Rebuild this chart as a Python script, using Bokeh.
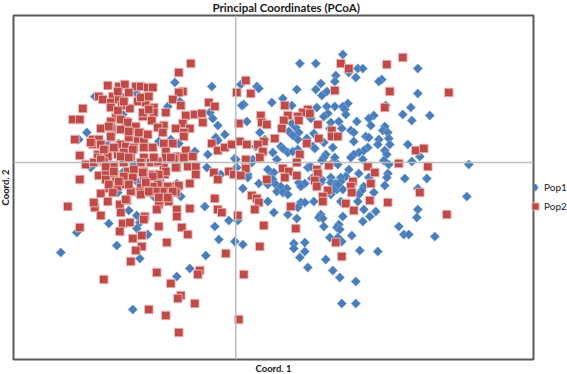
from bokeh.plotting import figure
from bokeh.models import Range1d, Span, Legend, LegendItem, FixedTicker
from bokeh.embed import file_html
from bokeh.resources import INLINE
import math

title_text = "Principal Coordinates (PCoA)"
x_label = "Coord. 1"
y_label = "Coord. 2"
series_names = ["Pop1", "Pop2"]

pop1_points = [
(-61,80),(-24,76),(-141,66),(-99,69),(-56,61),(-68,56),(-26,50),(-113,48),(-23,44),(-18,37),(-149,30),(-20,25),
(-11,28),(-18,22),(-157,23),(-65,23),(-77,21),(-57,19),(-41,11),(-28,8),(-1,4),(-29,-5),(1,-5),(-145,-5),(-15,-12),
(-98,-20),(-76,-18),(-59,-21),(-117,19),(-128,18),(-102,-2),(-112,-9),(-120,33),(-93,30),
(107,108),(64,99),(80,99),(122,94),(127,94),(182,94),(113,90),(100,87),(120,85),(85,79),(99,81),(146,83),(143,81),
(5,78),(21,76),(23,74),(61,73),(80,73),(91,71),(86,67),(182,69),(47,64),(36,60),(112,59),(8,58),(6,57),(56,57),
(81,55),(91,56),(99,56),(107,56),(109,53),(150,57),(175,55),(110,48),(92,49),(88,46),(138,47),(133,44),(167,48),
(194,47),(176,42),(11,41),(75,44),(103,41),(121,41),(135,37),(149,36),(56,39),(95,40),(106,34),(147,32),(60,35),
(63,30),(53,31),(24,30),(94,34),(115,32),(118,30),(152,30),(78,29),(57,27),(130,26),(133,25),(153,24),(62,23),
(143,23),(71,24),(88,20),(118,21),(142,18),(154,18),(172,18),(29,23),(45,16),(47,14),(77,16),(79,14),(97,15),
(132,15),(128,12),(123,10),(149,12),(151,8),(37,10),(52,10),(57,11),(62,13),(20,16),(184,6),(118,8),(115,5),(90,8),
(88,5),(86,2),(99,5),(41,3),(0,3),(17,3),(127,3),(148,2),(176,1),(96,-1),(153,-2),(233,-2),(102,-2),(16,0),(72,-5),
(75,-4),(32,-7),(113,-7),(38,-10),(0,-6),(12,-12),(35,-14),(123,-11),(152,-11),(151,-15),(191,-16),(169,-16),
(110,-14),(105,-15),(133,-15),(95,-15),(12,-15),(37,-17),(23,-21),(32,-22),(40,-22),(45,-24),(51,-26),(63,-20),
(69,-21),(65,-24),(76,-16),(85,-20),(95,-20),(100,-21),(105,-19),(128,-24),(149,-23),(7,-26),(101,-27),(98,-25),
(41,-29),(47,-30),(52,-32),(107,-27),(98,-27),(95,-32),(126,-28),(123,-32),(138,-30),(182,-26),(122,-39),(231,-34),
(32,-39),(78,-39),(65,-40),(69,-40),(105,-39),(62,-45),(38,-50),(52,-52),(85,-52),(83,-55),(87,-56),(61,-56),
(107,-54),(128,-47),(140,-49),(134,-54),(127,-59),(182,-47),(181,-55),(88,-64),(103,-62),(101,-65),(104,-67),
(163,-64),(168,-72),(173,-72),(199,-74),(116,-73),(94,-75),(102,-75),(106,-79),(-1,-79),(7,-82),(58,-81),(58,-86),
(69,-80),(69,-89),(64,-95),(90,-97),(124,-88),(142,-89),(72,-105),(97,-108),(104,-115),(120,-119),(106,-141),
(120,-141),(2,-58),(80,-17),(86,-17),(102,-22),
(-118,-30),(-55,-34),(-82,-34),(-31,-44),(-107,-48),(-99,-53),(-127,-61),(-96,-60),(-7,-58),(-99,-66),(-21,-64),
(-159,-70),(-88,-72),(-17,-77),(-119,-83),(-175,-90),(-96,-96),(-30,-93),(-46,-106),(-59,-114),(-103,-147),
]

pop2_points = [
(-45,99),(-57,90),(-128,77),(-117,76),(-111,78),(-100,76),(-95,76),(-88,75),(-83,75),(-53,71),(-57,70),(-137,66),
(-123,66),(-112,65),(-88,66),(-63,63),(-133,63),(-125,60),(-117,63),(-98,61),(-90,60),(-153,54),(-125,55),(-114,57),
(-106,54),(-82,55),(-55,57),(-27,60),(-21,56),(-70,50),(-92,48),(-82,50),(-120,45),(-50,47),(-41,48),(-34,49),
(-163,43),(-156,43),(-125,41),(-110,41),(-93,46),(-84,42),(-33,40),(-53,39),(-72,37),(-135,34),(-125,35),(-110,35),
(-102,33),(-78,35),(-60,34),(-46,34),(-73,30),(-52,30),(-92,28),(-161,23),(-143,23),(-137,23),(-125,25),(-107,25),
(-98,23),(-52,26),(-143,18),(-135,18),(-115,18),(-92,21),(-72,19),(-63,19),(-24,19),(-18,12),(-11,15),(-4,18),
(-156,7),(-138,8),(-128,13),(-110,16),(-102,15),(-83,15),(-70,11),(-50,12),(-58,6),(-43,6),(-138,5),(-128,6),
(-118,8),(-105,6),(-92,5),(-82,5),(-70,5),(-62,4),(-52,5),(-150,-2),(-142,0),(-132,1),(-122,-3),(-112,0),(-95,0),
(-85,0),(-78,0),(-59,-5),(-48,-4),(-40,-4),(-137,-13),(-130,-10),(-122,-12),(-108,-9),(-102,-7),(-92,-9),(-83,-12),
(-72,-5),(-71,-12),(-22,-10),(-7,-9),(-40,-12),(-156,-17),(-130,-17),(-120,-19),(-110,-19),(-92,-14),(-18,-17),
(-46,-21),(-78,-22),(-72,-24),(-58,-24),(-65,-24),(-118,-24),(-110,-22),(-95,-25),
(-127,-26),(-135,-31),(-105,-29),(-96,-30),(-80,-27),(-72,-27),(-63,-27),(-57,-23),(-85,-30),(-60,-30),(-21,-36),
(-128,-39),(-109,-38),(-95,-32),(-75,-38),(-67,-39),(-168,-44),(-141,-45),(-116,-42),(-77,-42),(-79,-47),(-46,-46),
(-18,-47),(-14,-50),(-59,-47),(-135,-53),(-115,-50),(-59,-54),(-91,-54),(-92,-57),(-156,-65),(-113,-61),(-106,-60),
(-77,-64),(-54,-65),(-116,-69),(-48,-72),(-103,-76),(-94,-73),(-69,-80),(-94,-84),(-100,-88),(-10,-91),(-105,-99),
(-79,-110),(-36,-108),(-38,-112),(-132,-117),(-65,-121),(-55,-133),(-58,-136),(-41,-141),(-87,-147),(-70,-153),
(-57,-170),
(-78,1),(-65,5),(-60,-5),(-70,-9),(-77,-12),(-83,-14),(-78,-22),(-68,-24),(-83,-24),(-73,-29),(-63,-29),(-80,-29),
(-68,-35),(-77,-35),(-82,5),
(-145,20),(-132,13),(-122,15),(-112,10),(-103,13),(-92,15),(-135,3),(-115,6),(-107,5),(-130,-4),(-122,-9),(-112,-14),
(-103,-15),(-93,-10),(-127,-22),(-117,-19),(-107,-22),(-90,-20),(-123,-30),(-87,-29),(-110,-37),(-142,-40),
(-118,71),(-107,70),(-95,65),(-87,66),(-118,52),(-112,61),(-93,50),(-87,53),(-127,36),(-115,43),(-108,40),(-100,36),
(-115,33),(-107,31),(-97,30),(-88,28),(-125,26),
(167,105),(151,98),(105,99),(113,94),(213,70),(10,82),(1,70),(15,69),(154,71),(99,72),(49,57),(149,55),(25,47),
(72,53),(67,50),(74,49),(52,47),(62,46),(63,42),(26,40),(31,38),(48,42),(3,39),(82,38),(46,34),(96,32),(96,26),
(102,26),(39,24),(83,24),(4,21),(28,21),(22,18),(11,18),(71,19),(27,11),(180,12),(188,14),(24,5),(10,3),(64,8),
(61,0),(163,-1),(192,-4),(93,-3),(132,-4),(139,-10),(10,-6),(47,-6),(53,-9),(81,-7),(82,-11),(-2,-12),(5,-13),
(61,-13),(49,-15),(31,-17),(79,-18),
(81,-24),(92,-28),(117,-19),(115,-24),(116,-30),(135,-21),(184,-30),(16,-33),(21,-36),(23,-40),(19,-47),(87,-34),
(87,-39),(110,-41),(134,-38),(152,-40),(55,-44),(118,-48),(2,-53),(211,-52),(28,-63),(60,-66),(100,-80),(24,-84),
(106,-94),(8,-112),(3,-157),
]

pop1_x = [a for a, b in pop1_points]
pop1_y = [b for a, b in pop1_points]
pop2_x = [a for a, b in pop2_points]
pop2_y = [b for a, b in pop2_points]

p = figure(frame_width=520, frame_height=344, output_backend="svg", toolbar_location=None,
           x_range=Range1d(-222.3, 297.7), y_range=Range1d(-197, 147),
           min_border_left=16, min_border_right=34, min_border_top=19, min_border_bottom=13,
           title=title_text)
p.styles = {"margin": "-4px 0 0 -4px"}
p.title.align = "left"
p.title.text_font = "Lato"
p.title.text_font_size = "11.5px"
p.title.text_font_style = "bold"
p.title.text_color = "#1a1a1a"
p.title.offset = 199
p.title.standoff = 3

p.grid.visible = False
for ax in (p.xaxis[0], p.yaxis[0]):
    ax.ticker = FixedTicker(ticks=[])
    ax.major_tick_line_color = None
    ax.minor_tick_line_color = None
    ax.major_label_standoff = 0
    ax.axis_line_color = None
    ax.axis_label_standoff = 3
    ax.axis_label_text_font = "Lato"
    ax.axis_label_text_font_size = "9.5px"
    ax.axis_label_text_font_style = "bold"
    ax.axis_label_text_color = "#1a1a1a"
p.xaxis.axis_label = x_label
p.yaxis.axis_label = y_label

p.outline_line_color = "#595959"
p.outline_line_width = 2

p.add_layout(Span(location=0, dimension="width", line_color="#BDBDBD", line_width=1.5))
p.add_layout(Span(location=0, dimension="height", line_color="#BDBDBD", line_width=1.5))

key1 = p.scatter(pop1_x[:1], pop1_y[:1], marker="diamond", size=6,
                 fill_color="#4A7EBB", line_color="#4A7EBB", line_width=1)
r1 = p.scatter(pop1_x, pop1_y, marker="square", angle=math.pi / 4, size=6.6,
               fill_color="#4A7EBB", line_color="#7FA6D6", line_width=0.7)
r2 = p.scatter(pop2_x, pop2_y, marker="square", size=8.6,
               fill_color="#BE4B48", line_color="#EDBDBC", line_width=0.9)

legend = Legend(items=[LegendItem(label=series_names[0], renderers=[key1]),
                       LegendItem(label=series_names[1], renderers=[r2])],
                location=(-7, 144), orientation="vertical",
                background_fill_alpha=0, border_line_color=None,
                label_text_font="Lato", label_text_font_size="10px", label_text_color="#1a1a1a",
                glyph_width=18, glyph_height=18, label_standoff=0, spacing=1, padding=0, margin=0)
p.add_layout(legend, "right")

open("out.html", "w").write(file_html(p, INLINE))
